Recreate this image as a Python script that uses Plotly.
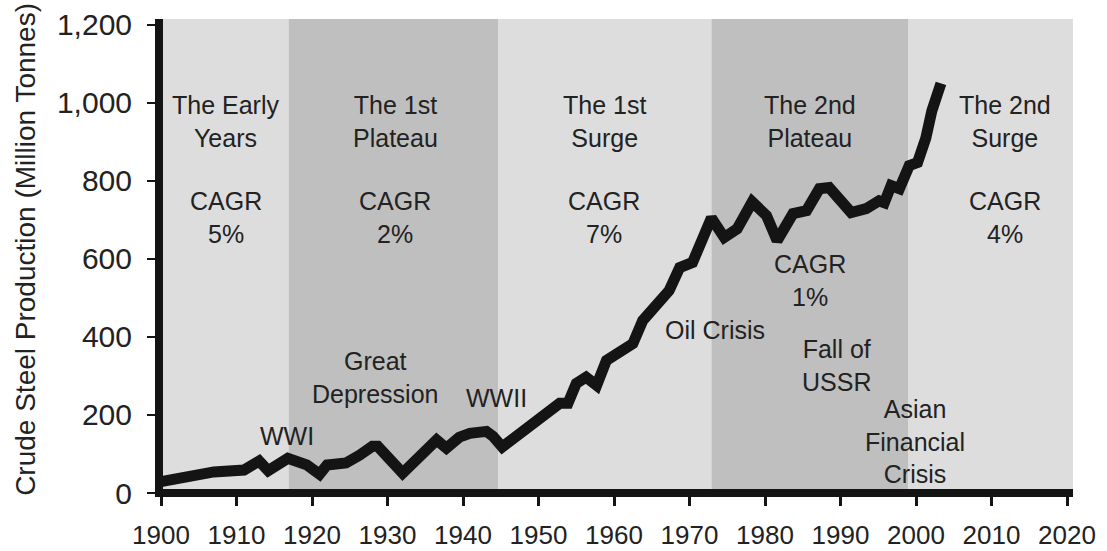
import plotly.graph_objects as go

# ---- data ----
years = [1900, 1907, 1911, 1913, 1914.2, 1916.8, 1919.3, 1921, 1922, 1924.5,
         1926.3, 1928, 1928.7, 1932, 1936.5, 1937.8, 1939.5, 1940.9, 1943.1, 1944,
         1945.2, 1948.8, 1949.5, 1952.8, 1953.9, 1955, 1956.3, 1957.7, 1959, 1960.7,
         1962.5, 1963.8, 1966, 1967.3, 1968.7, 1970.4, 1972.9, 1974.6, 1976.3, 1978.3,
         1980.2, 1981.6, 1983.7, 1985.5, 1987.2, 1988.5, 1991.4, 1993.4, 1995.1, 1995.8,
         1996.7, 1997.8, 1999.1, 2000.2, 2001.3, 2002.1, 2003.3]
production = [29, 54, 59, 82, 57, 89, 72, 48, 72, 77,
              97, 120, 120, 51, 136, 115, 143, 153, 158, 145,
              118, 174, 187, 230, 230, 281, 297, 276, 340, 361,
              383, 442, 488, 519, 578, 591, 705, 655, 677, 746,
              711, 647, 716, 724, 780, 783, 719, 729, 749, 744,
              788, 780, 839, 847, 910, 980, 1050]

era_starts = [1899.7, 1916.9, 1944.7, 1972.9, 1999.0]
era_end = 2020.8
era_names = ["The Early<br>Years", "The 1st<br>Plateau", "The 1st<br>Surge",
             "The 2nd<br>Plateau", "The 2nd<br>Surge"]
era_cagr = ["CAGR<br>5%", "CAGR<br>2%", "CAGR<br>7%", "CAGR<br>1%", "CAGR<br>4%"]

event_names = ["WWI", "Great<br>Depression", "WWII", "Oil Crisis",
               "Fall of<br>USSR", "Asian<br>Financial<br>Crisis"]

x_ticks = list(range(1900, 2021, 10))
y_ticks = [0, 200, 400, 600, 800, 1000, 1200]
y_tick_text = ["0", "200", "400", "600", "800", "1,000", "1,200"]

# ---- styling / layout ----
FONT = "Liberation Sans, Arial, Helvetica, sans-serif"
TXT = "#222222"
era_colors = ["#dddddd", "#bfbfbf", "#dddddd", "#bfbfbf", "#dddddd"]

fig = go.Figure()
fig.add_trace(go.Scatter(x=years, y=production, mode="lines",
                         line=dict(color="#141414", width=11),
                         hoverinfo="x+y", showlegend=False))

shapes = []
bounds = era_starts + [era_end]
for i in range(len(era_starts)):
    shapes.append(dict(type="rect", xref="x", yref="paper",
                       x0=bounds[i], x1=bounds[i + 1], y0=0, y1=1,
                       fillcolor=era_colors[i], line=dict(width=0), layer="below"))
# thick axis lines
shapes.append(dict(type="line", xref="paper", yref="paper", x0=-0.0044, x1=1.0,
                   y0=0, y1=0, line=dict(color="#141414", width=8), layer="above"))
shapes.append(dict(type="line", xref="paper", yref="paper", x0=0, x1=0,
                   y0=0, y1=1, line=dict(color="#141414", width=8), layer="above"))

annotations = []
era_label_x = [1908.6, 1931.0, 1958.7, 1986.0, 2011.8]
era_cagr_y = [705, 705, 705, 544, 705]
for i in range(len(era_names)):
    annotations.append(dict(x=era_label_x[i], y=951, xref="x", yref="y",
                            text=era_names[i], showarrow=False,
                            font=dict(family=FONT, size=25, color=TXT)))
    annotations.append(dict(x=era_label_x[i], y=era_cagr_y[i], xref="x", yref="y",
                            text=era_cagr[i], showarrow=False,
                            font=dict(family=FONT, size=25, color=TXT)))

event_pos = [(1916.7, 146), (1928.3, 297), (1944.5, 244), (1973.4, 418),
             (1989.5, 328), (1999.8, 131)]
for name, (ex, ey) in zip(event_names, event_pos):
    annotations.append(dict(x=ex, y=ey, xref="x", yref="y", text=name,
                            showarrow=False,
                            font=dict(family=FONT, size=25, color=TXT)))

annotations.append(dict(x=-0.1455, y=0.513, xref="paper", yref="paper",
                        xanchor="center", yanchor="middle",
                        text="Crude Steel Production (Million Tonnes)",
                        textangle=-90, showarrow=False,
                        font=dict(family=FONT, size=28, color=TXT)))

fig.update_layout(
    width=1107, height=551,
    margin=dict(l=159, r=34, t=19, b=58, autoexpand=False),
    paper_bgcolor="white", plot_bgcolor="white",
    shapes=shapes, annotations=annotations,
    xaxis=dict(range=[1899.735, 2020.79], tickvals=x_ticks,
               ticks="outside", ticklen=12, tickwidth=3, tickcolor="#141414",
               showgrid=False, zeroline=False, showline=False, automargin=False,
               ticklabelstandoff=7,
               tickfont=dict(family=FONT, size=26, color=TXT)),
    yaxis=dict(range=[0, 1215], tickvals=y_ticks, ticktext=y_tick_text,
               ticks="outside", ticklen=11, tickwidth=2, tickcolor="#141414",
               showgrid=False, zeroline=False, showline=False, automargin=False,
               ticklabelstandoff=9,
               tickfont=dict(family=FONT, size=30, color=TXT)),
)

fig.write_html("out.html", config={"displayModeBar": False},
               post_script="document.body.style.margin='0';document.body.style.overflow='hidden';")
